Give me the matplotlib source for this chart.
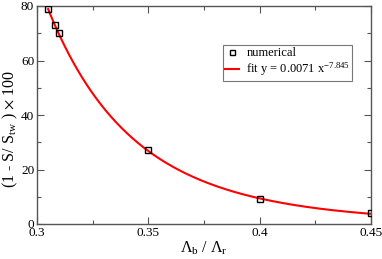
import numpy as np
import matplotlib
matplotlib.use("Agg")
import matplotlib.pyplot as plt
from matplotlib.ticker import MultipleLocator

# numerical points
ratio = [0.305, 0.308, 0.310, 0.350, 0.400, 0.450]
loss = [79.0, 73.0, 70.0, 27.0, 9.0, 4.0]

# fit parameters as given in the legend
fit_a = 0.0071
fit_b = -7.845

plt.rcParams['font.family'] = ['Liberation Serif', 'DejaVu Serif']
plt.rcParams['mathtext.fontset'] = 'stix'

fig = plt.figure(figsize=(3.82, 2.59), dpi=100)
ax = fig.add_axes([37 / 382, 1 - 224 / 259, 334 / 382, 218 / 259])

xfit = np.linspace(ratio[0], ratio[-1], 300)
ax.plot(xfit, fit_a * xfit ** fit_b, color='red', lw=1.5,
        label='fit y = 0.0071 x$^{\\mathregular{-7.845}}$', zorder=2)
ax.plot(ratio, loss, ls='none', marker='s', ms=4.5, mfc='none', mec='black',
        mew=1.0, label='numerical', zorder=3)

ax.set_xlim(0.3, 0.45)
ax.set_ylim(0, 80)
ax.xaxis.set_minor_locator(MultipleLocator(0.025))
ax.yaxis.set_major_locator(MultipleLocator(20))
ax.yaxis.set_minor_locator(MultipleLocator(10))
ax.set_xticks([0.3, 0.35, 0.4, 0.45])
ax.set_xticklabels(['0.3', '0.35', '0.4', '0.45'])
ax.tick_params(which='both', direction='in', top=True, right=True,
               labelsize=9.5, width=0.8, color='#555555', pad=2)
ax.tick_params(which='major', length=5)
ax.tick_params(which='minor', length=3)
for s in ax.spines.values():
    s.set_color('#555555')
    s.set_linewidth(1.0)

ax.set_xlabel(r'$\mathregular{\Lambda_b}$ / $\mathregular{\Lambda_r}$', fontsize=11.5)
ax.xaxis.set_label_coords(0.5, -0.07)
ax.set_ylabel(r'(1 - S/ S$_{\mathregular{tw}}$ ) $\times$ 100', fontsize=11.5)
ax.yaxis.set_label_coords(-0.05, 0.435)

h, l = ax.get_legend_handles_labels()
leg = ax.legend(h[::-1], l[::-1], loc='upper left', bbox_to_anchor=(0.558, 0.821),
                fontsize=9, frameon=True, fancybox=False, handlelength=1.1,
                borderpad=0.15, labelspacing=0.15, handletextpad=0.6,
                borderaxespad=0, markerscale=0.8)
leg.get_frame().set_edgecolor('#555555')
leg.get_frame().set_linewidth(0.8)

fig.savefig('out.png', dpi=100)
